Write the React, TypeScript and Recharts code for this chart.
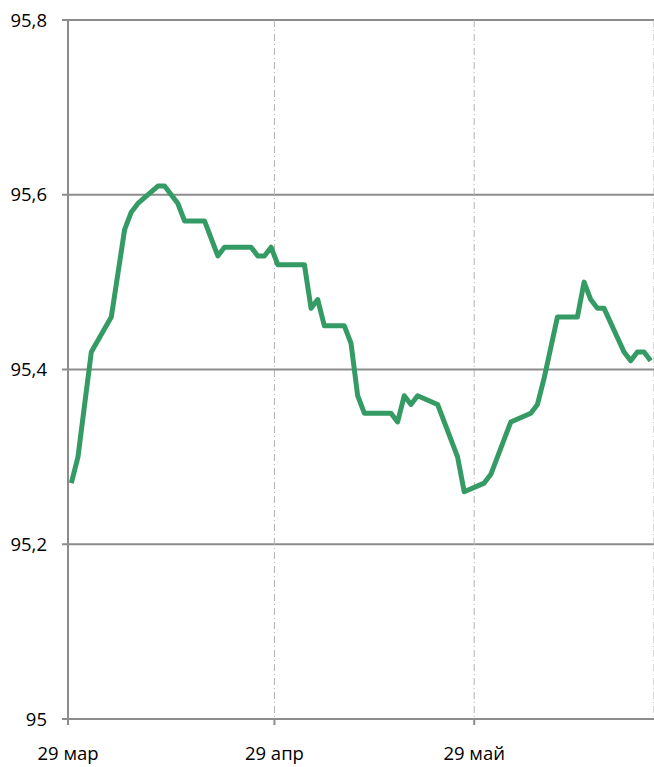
import { LineChart, Line, XAxis, YAxis, CartesianGrid } from "recharts"

// day offsets from 29 March
const days = [0, 1, 3, 6, 8, 9, 10, 13, 14, 16, 17, 20, 22, 23, 27, 28, 29, 30, 31, 35, 36, 37, 38, 41, 42, 43, 44, 48, 49, 50, 51, 52, 55, 58, 59, 62, 63, 66, 69, 70, 71, 73, 76, 77, 78, 79, 80, 83, 84, 85, 86, 87]
const values = [95.27, 95.3, 95.42, 95.46, 95.56, 95.58, 95.59, 95.61, 95.61, 95.59, 95.57, 95.57, 95.53, 95.54, 95.54, 95.53, 95.53, 95.54, 95.52, 95.52, 95.47, 95.48, 95.45, 95.45, 95.43, 95.37, 95.35, 95.35, 95.34, 95.37, 95.36, 95.37, 95.36, 95.3, 95.26, 95.27, 95.28, 95.34, 95.35, 95.36, 95.39, 95.46, 95.46, 95.5, 95.48, 95.47, 95.47, 95.42, 95.41, 95.42, 95.42, 95.41]

const xTicks = [0, 31, 61]
const xLabels = ["29 мар", "29 апр", "29 май"]
const yTicks = [95, 95.2, 95.4, 95.6, 95.8]

// points sit in the middle of their day
const data = days.map((d, i) => ({ pos: d + 0.5, value: values[i] }))

const grey = "#8c8c8c"
const font = { fontFamily: "'Open Sans', sans-serif", fontSize: 18.5, fill: "#000" }

export default function App() {
  return (
    <div style={{ position: "absolute", left: 0, top: 0 }}>
      <LineChart width={654} height={767} data={data} margin={{ top: 20, right: 0, bottom: 0, left: 0 }}>
        <CartesianGrid horizontal vertical={false} stroke={grey} strokeWidth={2} />
        <CartesianGrid horizontal={false} vertical stroke="#b3b3b3" strokeWidth={1} strokeDasharray="7 3 1 3" />
        <XAxis
          dataKey="pos"
          type="number"
          domain={[0, 88]}
          ticks={xTicks}
          tickFormatter={(v) => xLabels[xTicks.indexOf(v)] ?? ""}
          tick={font}
          stroke={grey}
          strokeWidth={2}
          tickSize={6}
          tickMargin={22}
          height={48}
          allowDataOverflow
        />
        <YAxis
          type="number"
          domain={[95, 95.8]}
          ticks={yTicks}
          tickFormatter={(v) => String(v).replace(".", ",")}
          tick={font}
          stroke={grey}
          strokeWidth={2}
          tickSize={6}
          tickMargin={15}
          width={68}
        />
        <Line
          type="linear"
          dataKey="value"
          stroke="#359b65"
          strokeWidth={5}
          dot={false}
          strokeLinejoin="round"
          isAnimationActive={false}
        />
      </LineChart>
    </div>
  )
}
